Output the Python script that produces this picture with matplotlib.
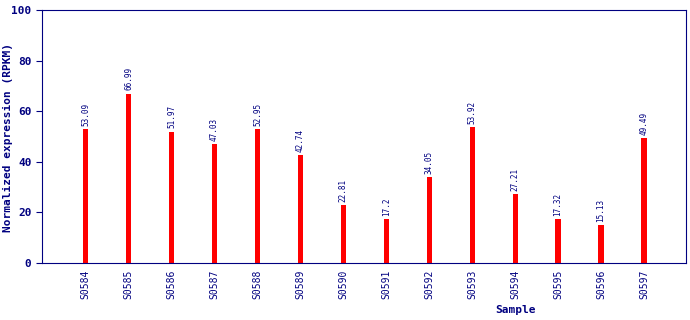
import matplotlib
matplotlib.use("Agg")
import matplotlib.pyplot as plt

samples = ["S0584", "S0585", "S0586", "S0587", "S0588", "S0589", "S0590",
           "S0591", "S0592", "S0593", "S0594", "S0595", "S0596", "S0597"]
values = [53.09, 66.99, 51.97, 47.03, 52.95, 42.74, 22.81,
          17.2, 34.05, 53.92, 27.21, 17.32, 15.13, 49.49]
value_labels = ["53.09", "66.99", "51.97", "47.03", "52.95", "42.74", "22.81",
                "17.2", "34.05", "53.92", "27.21", "17.32", "15.13", "49.49"]
yticks = [0, 20, 40, 60, 80, 100]

navy = "#000080"
mono = "DejaVu Sans Mono"

fig = plt.figure(figsize=(6.9, 3.2), dpi=100)
ax = fig.add_axes([42/690, 57/320, 644/690, 253/320])
x = list(range(len(samples)))
ax.bar(x, values, width=0.12, color="#ff0000")
for xi, v, lab in zip(x, values, value_labels):
    ax.text(xi, v + 1.2, lab, rotation=90, ha="center", va="bottom",
            fontsize=5.5, color=navy, family=mono)
ax.set_xlim(-1.02, 13.98)
ax.set_ylim(0, 100)
ax.set_yticks(yticks)
ax.set_yticklabels([str(t) for t in yticks], fontsize=8, fontweight="bold",
                   color=navy, family=mono)
ax.set_xticks(x)
ax.set_xticklabels(samples, rotation=90, fontsize=7, color=navy, family=mono)
for s in ax.spines.values():
    s.set_color(navy)
ax.tick_params(axis="both", colors=navy, length=4)
ax.tick_params(axis="x", length=0, pad=5)
fig.text(8/690, 1 - 137/320, "Normalized expression (RPKM)", rotation=90,
         ha="center", va="center", fontsize=8, fontweight="bold",
         color=navy, family=mono)
fig.text(515/690, 1 - 310/320, "Sample", ha="center", va="center",
         fontsize=8, fontweight="bold", color=navy, family=mono)
fig.savefig("out.png", dpi=100)
